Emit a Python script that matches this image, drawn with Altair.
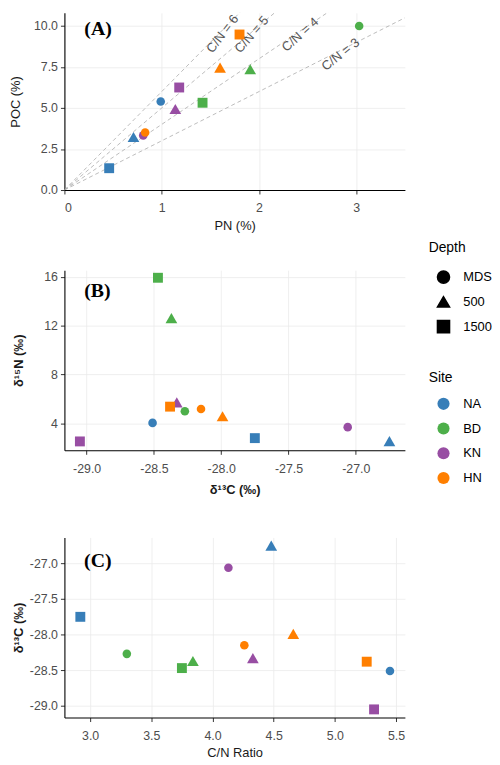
import altair as alt
import pandas as pd

# ---- data ----
site = ["NA", "NA", "NA", "BD", "BD", "BD", "KN", "KN", "KN", "HN", "HN", "HN"]
depth = ["MDS", "500", "1500"] * 4
pn = [0.99, 0.71, 0.46, 3.03, 1.91, 1.42, 0.81, 1.14, 1.18, 0.83, 1.60, 1.80]
poc = [5.40, 3.23, 1.33, 10.0, 7.36, 5.32, 3.33, 4.94, 6.25, 3.51, 7.46, 9.48]
d13c = [-28.51, -26.75, -27.75, -28.27, -28.37, -28.47, -27.06, -28.33, -29.05, -28.15, -27.99, -28.38]
d15n = [4.03, 2.54, 2.78, 4.98, 12.61, 15.92, 3.68, 5.71, 2.51, 5.17, 4.57, 5.36]
cn = [5.45, 4.48, 2.92, 3.30, 3.84, 3.75, 4.13, 4.33, 5.32, 4.26, 4.66, 5.26]

site_order = ["NA", "BD", "KN", "HN"]
site_colors = ["#377EB8", "#4DAF4A", "#984EA3", "#FF7F00"]
depth_order = ["MDS", "500", "1500"]
depth_shapes = ["circle", "triangle-up", "square"]
depth_sizes = {"MDS": 75, "500": 140, "1500": 100}

# C/N reference lines and their labels
cn_ratios = [6, 5, 4, 3]
cn_label_x = [1.626, 1.925, 2.424, 2.838]
cn_label_y = [9.52, 9.47, 9.47, 8.26]
cn_label_angle = [307, 311, 318, 322]
line_x_end = 3.5

df = pd.DataFrame({"Site": site, "Depth": depth, "PN": pn, "POC": poc,
                   "d13C": d13c, "d15N": d15n, "CN": cn})
df["sz"] = df["Depth"].map(depth_sizes)

lines = pd.DataFrame({
    "k": [k for k in cn_ratios for _ in range(2)],
    "x": [v for _ in cn_ratios for v in (0.0, line_x_end)],
})
lines["y"] = lines["k"] * lines["x"]

labels = pd.DataFrame({"x": cn_label_x, "y": cn_label_y, "angle": cn_label_angle,
                       "text": [f"C/N = {k}" for k in cn_ratios]})

W = 344
FONT = "Liberation Sans"
EXT = 34


def fmt_expr(f):
    return "replace(format(datum.value, '%s'), '\u2212', '-')" % f


color_enc = alt.Color("Site:N", scale=alt.Scale(domain=site_order, range=site_colors),
                      legend=alt.Legend(title="Site", orient="none", legendX=368, legendY=362,
                                        symbolType="circle", symbolSize=150, rowPadding=11,
                                        symbolOffset=8, labelOffset=13, titlePadding=12))
shape_enc = alt.Shape("Depth:N", scale=alt.Scale(domain=depth_order, range=depth_shapes),
                      legend=alt.Legend(title="Depth", orient="none", legendX=368, legendY=231,
                                        symbolSize=150, symbolFillColor="black",
                                        symbolStrokeColor="black", rowPadding=6,
                                        symbolOffset=8, labelOffset=13, titlePadding=15))
size_enc = alt.Size("sz:Q", scale=None, legend=None)


def yaxis(title, values, tp, f=".1f", bold=False):
    kw = dict(title=title, values=values, tickSize=4, labelPadding=3, minExtent=EXT,
              maxExtent=EXT, titlePadding=tp, labelExpr=fmt_expr(f))
    if bold:
        kw["titleFontWeight"] = "bold"
    return alt.Axis(**kw)


def xaxis(title, values, tp, f=".1f", bold=False):
    kw = dict(title=title, values=values, tickSize=4, labelPadding=8, titlePadding=tp,
              labelExpr=fmt_expr(f))
    if bold:
        kw["titleFontWeight"] = "bold"
    return alt.Axis(**kw)


def panel_label(x, y, txt):
    d = pd.DataFrame({"x": [x], "y": [y], "t": [txt]})
    return alt.Chart(d).mark_text(font="Liberation Serif", fontWeight="bold", fontSize=20,
                                  color="black").encode(x="x:Q", y="y:Q", text="t:N")


def points(x, y):
    return alt.Chart(df).mark_point(filled=True, opacity=1).encode(
        x=x, y=y, color=color_enc, shape=shape_enc, size=size_enc)


# ---- Panel A ----
xA = alt.X("PN:Q", scale=alt.Scale(domain=[0, 3.5], nice=False, zero=False),
           axis=xaxis("PN (%)", [0, 1, 2, 3], 5, f="d"))
yA = alt.Y("POC:Q", scale=alt.Scale(domain=[0, 10.8], nice=False, zero=False),
           axis=yaxis("POC (%)", [0, 2.5, 5, 7.5, 10], 8))

linesA = alt.Chart(lines).mark_line(strokeDash=[4, 3], color="#ABABAB", strokeWidth=0.8,
                                    clip=True).encode(
    x=alt.X("x:Q"), y=alt.Y("y:Q"), detail="k:N")
labA = alt.Chart(labels).mark_text(font=FONT, fontSize=13, color="#555555").encode(
    x="x:Q", y="y:Q", text="text:N", angle=alt.Angle("angle:Q", scale=None))
A = alt.layer(linesA, labA, points(xA, yA),
              panel_label(0.346, 9.84, "(A)")).properties(width=W, height=179)

# ---- Panel B ----
xB = alt.X("d13C:Q", scale=alt.Scale(domain=[-29.165, -26.635], nice=False, zero=False),
           axis=xaxis("\u03b4\u00b9\u00b3C (\u2030)", [-29, -28.5, -28, -27.5, -27], 9, bold=True))
yB = alt.Y("d15N:Q", scale=alt.Scale(domain=[1.78, 16.54], nice=False, zero=False),
           axis=yaxis("\u03b4\u00b9\u2075N (\u2030)", [4, 8, 12, 16], 5, f="d", bold=True))
B = alt.layer(points(xB, yB), panel_label(-28.92, 14.86, "(B)")).properties(width=W, height=182)

# ---- Panel C ----
xC = alt.X("CN:Q", scale=alt.Scale(domain=[2.79, 5.572], nice=False, zero=False),
           axis=xaxis("C/N Ratio", [3, 3.5, 4, 4.5, 5, 5.5], 5))
yC = alt.Y("d13C:Q", scale=alt.Scale(domain=[-29.165, -26.635], nice=False, zero=False),
           axis=yaxis("\u03b4\u00b9\u00b3C (\u2030)", [-29, -28.5, -28, -27.5, -27], 5, bold=True))
C = alt.layer(points(xC, yC), panel_label(3.063, -26.97, "(C)")).properties(width=W, height=182)

chart = alt.vconcat(
    A, alt.vconcat(B, C, spacing=88, bounds="flush"), spacing=81, bounds="flush"
).properties(
    padding={"left": 2, "top": 0, "right": 0, "bottom": 0}
).configure_view(stroke=None).configure_axis(
    domainColor="black", domainWidth=1.1, tickColor="#333333", tickWidth=1,
    gridColor="#EBEBEB", gridWidth=0.8,
    labelFont=FONT, labelFontSize=12.5, labelColor="#4D4D4D",
    titleFont=FONT, titleFontSize=13, titleColor="#1A1A1A", titleFontWeight="normal",
).configure_legend(
    titleFont=FONT, titleFontSize=14, titleFontWeight="normal", titleColor="black",
    labelFont=FONT, labelFontSize=13, labelColor="black", padding=0,
)

chart.save("out.html", embed_options={"renderer": "svg", "actions": False})
